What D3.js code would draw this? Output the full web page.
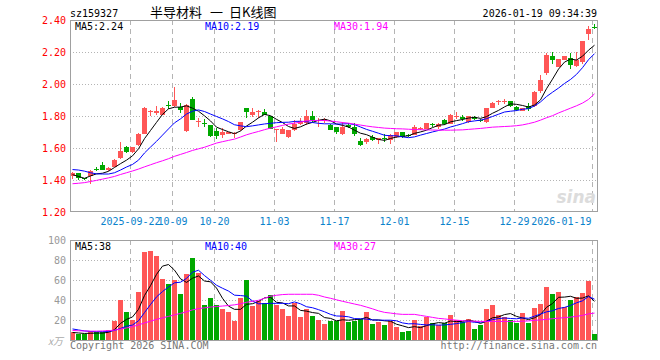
<!DOCTYPE html>
<html><head><meta charset="utf-8">
<script src="https://cdn.jsdelivr.net/npm/d3@7"></script>
<style>body{margin:0;background:#fff}svg{display:block}</style>
</head><body>
<svg id="c" width="660" height="360"></svg>
<script>
// ---------------- data ----------------
const open  = [1.424,1.444,1.410,1.423,1.470,1.496,1.462,1.481,1.536,1.604,1.573,1.617,1.690,1.825,1.820,1.810,1.868,1.862,1.856,1.704,1.910,1.765,1.758,1.742,1.705,1.680,1.690,1.687,1.710,1.850,1.810,1.827,1.827,1.800,1.710,1.690,1.667,1.716,1.752,1.760,1.800,1.768,1.770,1.745,1.730,1.685,1.745,1.735,1.646,1.640,1.670,1.653,1.660,1.648,1.669,1.700,1.682,1.680,1.720,1.722,1.748,1.729,1.775,1.753,1.794,1.796,1.764,1.796,1.777,1.764,1.850,1.888,1.888,1.895,1.860,1.834,1.863,1.863,1.955,2.070,2.175,2.110,2.153,2.164,2.116,2.137,2.318,2.362];
const high  = [1.448,1.446,1.415,1.460,1.480,1.510,1.478,1.532,1.635,1.610,1.607,1.694,1.855,1.840,1.865,1.856,1.895,1.980,1.880,1.875,1.920,1.790,1.780,1.745,1.725,1.725,1.700,1.700,1.765,1.850,1.850,1.840,1.845,1.800,1.720,1.735,1.710,1.777,1.790,1.840,1.830,1.790,1.790,1.750,1.730,1.765,1.760,1.755,1.665,1.665,1.680,1.665,1.685,1.685,1.700,1.700,1.690,1.745,1.735,1.760,1.757,1.757,1.785,1.812,1.827,1.806,1.800,1.800,1.785,1.850,1.890,1.900,1.905,1.895,1.865,1.853,1.880,1.960,2.058,2.195,2.205,2.160,2.180,2.195,2.200,2.272,2.363,2.375];
const low   = [1.405,1.400,1.400,1.377,1.455,1.460,1.458,1.478,1.530,1.566,1.570,1.610,1.685,1.800,1.810,1.805,1.845,1.858,1.820,1.700,1.775,1.730,1.735,1.670,1.656,1.664,1.685,1.660,1.705,1.790,1.794,1.790,1.805,1.720,1.640,1.685,1.665,1.706,1.744,1.744,1.765,1.730,1.760,1.715,1.685,1.680,1.725,1.675,1.610,1.625,1.645,1.628,1.635,1.625,1.665,1.665,1.672,1.680,1.710,1.720,1.735,1.720,1.745,1.750,1.780,1.770,1.760,1.775,1.765,1.760,1.850,1.870,1.875,1.860,1.835,1.830,1.835,1.860,1.945,2.060,2.130,2.110,2.150,2.095,2.110,2.130,2.280,2.345];
const close = [1.443,1.413,1.407,1.458,1.467,1.465,1.474,1.527,1.579,1.573,1.604,1.690,1.850,1.832,1.830,1.854,1.864,1.900,1.837,1.871,1.777,1.770,1.754,1.677,1.677,1.700,1.700,1.697,1.762,1.829,1.823,1.832,1.810,1.720,1.717,1.720,1.710,1.750,1.770,1.798,1.777,1.777,1.785,1.716,1.700,1.730,1.730,1.686,1.617,1.655,1.650,1.660,1.657,1.680,1.700,1.669,1.678,1.733,1.724,1.758,1.746,1.753,1.753,1.810,1.798,1.779,1.800,1.780,1.774,1.850,1.884,1.892,1.892,1.865,1.838,1.850,1.842,1.954,2.027,2.185,2.153,2.157,2.175,2.122,2.154,2.270,2.347,2.358];
const ma5   = [1.433,1.422,1.410,1.425,1.438,1.442,1.454,1.478,1.502,1.524,1.551,1.595,1.659,1.710,1.761,1.811,1.846,1.856,1.857,1.865,1.850,1.831,1.802,1.770,1.731,1.716,1.702,1.690,1.707,1.738,1.762,1.789,1.811,1.803,1.780,1.760,1.735,1.723,1.733,1.750,1.761,1.774,1.781,1.771,1.751,1.742,1.732,1.712,1.693,1.684,1.668,1.654,1.648,1.660,1.669,1.673,1.677,1.692,1.701,1.712,1.728,1.743,1.747,1.764,1.772,1.779,1.788,1.793,1.786,1.797,1.818,1.836,1.858,1.877,1.874,1.867,1.857,1.870,1.902,1.972,2.032,2.095,2.139,2.158,2.152,2.176,2.214,2.245];
const ma10  = [1.465,1.462,1.455,1.445,1.438,1.437,1.437,1.445,1.462,1.481,1.497,1.524,1.569,1.606,1.642,1.681,1.720,1.758,1.783,1.813,1.831,1.839,1.829,1.813,1.798,1.783,1.766,1.746,1.739,1.734,1.739,1.745,1.751,1.755,1.759,1.761,1.762,1.767,1.768,1.765,1.760,1.755,1.752,1.752,1.750,1.751,1.753,1.747,1.732,1.717,1.705,1.693,1.680,1.677,1.677,1.670,1.665,1.670,1.681,1.691,1.701,1.710,1.719,1.732,1.742,1.753,1.765,1.770,1.775,1.784,1.798,1.812,1.826,1.831,1.835,1.843,1.847,1.864,1.889,1.923,1.950,1.976,2.005,2.030,2.062,2.104,2.154,2.192];
const ma30  = [1.376,1.379,1.383,1.390,1.397,1.405,1.413,1.422,1.434,1.445,1.456,1.468,1.482,1.495,1.508,1.520,1.533,1.548,1.560,1.572,1.585,1.595,1.605,1.618,1.631,1.640,1.648,1.656,1.669,1.683,1.694,1.704,1.715,1.725,1.733,1.742,1.750,1.756,1.763,1.771,1.773,1.773,1.773,1.769,1.765,1.760,1.756,1.750,1.744,1.738,1.733,1.729,1.725,1.723,1.721,1.720,1.718,1.716,1.715,1.714,1.713,1.712,1.712,1.712,1.713,1.714,1.717,1.720,1.723,1.727,1.731,1.733,1.735,1.737,1.740,1.745,1.753,1.762,1.775,1.790,1.803,1.820,1.835,1.850,1.865,1.882,1.905,1.940];
const volume = [8,6,6,9,8,8,10,19,40,28,20,48,88,89,84,61,56,60,46,66,82,67,35,42,35,31,28,19,42,60,34,39,37,45,35,31,24,37,23,31,24,20,16,19,19,29,18,19,21,28,16,18,15,19,13,8,9,20,14,23,17,15,17,25,20,18,21,11,15,31,35,25,23,20,17,27,17,32,36,53,46,48,33,40,43,47,59,6];
const vma5  = [8,7.5,7,7.2,7.4,7.4,8.2,10.8,17,21,23.4,31,44.8,54.6,65.8,74,75.6,70,61.4,57.8,62,64.2,59.2,58.4,52.2,42,34.2,31,31,36,36.6,38.8,42.4,43,38,37.4,34.4,34.4,30,29.2,27.8,27,22.8,22,19.6,20.6,20.2,20.8,21.2,23,20.4,20.4,19.6,19.2,16.2,14.6,12.8,13.8,12.8,14.8,16.6,17.8,17.2,19.4,18.8,19,20.2,19,17,19.2,22.6,23.4,25.8,26.8,24,22.4,20.8,22.6,25.8,33,36.8,43,43.2,44,42,42.2,44.4,39];
const vma10 = [11.5,10.5,9.5,9,8.8,8.8,9,10,12,14.2,15.4,19.6,27.8,35.8,43.4,48.7,53.3,57.4,58,61.8,68,69.9,64.6,59.9,55,52,49.2,45.1,44.7,44.1,39.3,36.5,36.7,37,37,37,36.6,38.4,36.5,33.6,32.6,30.7,28.6,26,24.4,24.2,23.6,21.8,21.6,21.3,20.5,20.3,20.2,20.2,19.6,17.5,16.6,16.7,16,15.5,15.6,15.3,15.5,16.1,16.8,17.8,19,18.1,18.2,19,20.8,21.8,22.4,21.9,21.6,22.5,22.1,24.2,26.3,28.5,29.6,31.9,32.9,34.9,37.5,39.5,43.7,41.1];
const vma30 = [10,9.7,9.5,9.3,9.3,9.5,9.8,10.3,11.3,12.5,13.8,15.5,17.5,19.2,21,22.5,24,25.5,27,28.5,30.5,31.7,32.5,33.3,33.8,34.3,34.8,35.5,36.5,38,39,40,42,44,45,45.7,46,46,46,46,46,45,43.3,42,40.5,39,37.7,36.3,35,33.3,31.5,29.5,28,27.3,26.5,26,26,26,25,24,23,22,21.5,20.8,20.2,19.7,19.4,19.2,19,19,19,19,19,19,19,19.2,19.5,20,20.5,21,21.7,22.2,22.8,23.3,24,25,26.5,27.3];
const priceTicks = [2.40,2.20,2.00,1.80,1.60,1.40,1.20];
const volTicks = [100,80,60,40,20];
const dateLabels = ["2025-09-22","10-09","10-20","11-03","11-17","12-01","12-15","12-29","2026-01-19"];
const dateIndex = [10,17,24,34,44,54,64,74,87];
const code = "sz159327", stamp = "2026-01-19 09:34:39";
const titleParts = ["半导材料", "一", "日K线图"];
const maLabels = ["MA5:2.24","MA10:2.19","MA30:1.94"];
const vmaLabels = ["MA5:38","MA10:40","MA30:27"];

// ---------------- drawing ----------------
const UP = "#ff5656", DOWN = "#00a800";
const MA_COL = ["#000000", "#0000ff", "#ff00ff"];
const MONO = "'DejaVu Sans Mono', 'Liberation Mono', monospace";
const CJK = "'Noto Sans CJK SC', sans-serif";
const svg = d3.select("#c");
const n = close.length;
const L = 70, R = 597;
const x = d3.scaleBand().domain(d3.range(n)).range([L, L + 6 * n]).padding(0);
const xi = d3.scaleLinear().domain([0, n]).range([L, L + 6 * n]);
const cx = i => x(i) + 2.5;
const y = d3.scaleLinear().domain([1.2, 2.4]).range([211.8, 20.5]);
const yv = d3.scaleLinear().domain([0, 100]).range([340.5, 240]);
const MT = 20, MB = 211, VT = 240, VB = 341;

// grids
const grid = svg.append("g").attr("stroke", "#b4b4b4").attr("shape-rendering", "crispEdges");
priceTicks.slice(1, -1).forEach(p => grid.append("line")
  .attr("x1", L).attr("x2", R).attr("y1", Math.round(y(p)) + 0.5).attr("y2", Math.round(y(p)) + 0.5)
  .attr("stroke-dasharray", "1,2"));
volTicks.slice(1).forEach(v => grid.append("line")
  .attr("x1", L).attr("x2", R).attr("y1", Math.round(yv(v)) + 0.5).attr("y2", Math.round(yv(v)) + 0.5)
  .attr("stroke-dasharray", "1,2"));
dateIndex.forEach(i => {
  const gx = Math.round(xi(i)) + 0.5;
  grid.append("line").attr("x1", gx).attr("x2", gx).attr("y1", MT).attr("y2", MB).attr("stroke-dasharray", "5,4");
  grid.append("line").attr("x1", gx).attr("x2", gx).attr("y1", VT).attr("y2", VB).attr("stroke-dasharray", "5,4");
});

// candles
const cg = svg.append("g").attr("shape-rendering", "crispEdges");
d3.range(n).forEach(i => {
  const col = close[i] >= open[i] ? UP : DOWN;
  cg.append("line").attr("x1", cx(i)).attr("x2", cx(i))
    .attr("y1", y(high[i])).attr("y2", y(low[i])).attr("stroke", col);
  const top = y(Math.max(open[i], close[i])), bot = y(Math.min(open[i], close[i]));
  cg.append("rect").attr("x", x(i)).attr("width", 5)
    .attr("y", top).attr("height", Math.max(1, bot - top)).attr("fill", col);
});

// volume bars
const vg = svg.append("g").attr("shape-rendering", "crispEdges");
d3.range(n).forEach(i => {
  const col = close[i] >= open[i] ? UP : DOWN;
  vg.append("rect").attr("x", x(i)).attr("width", 5)
    .attr("y", yv(volume[i])).attr("height", 340.5 - yv(volume[i])).attr("fill", col);
});

// MA lines
const line = (arr, sc) => d3.line().x((d, i) => cx(i)).y(d => sc(d))(arr);
[ma5, ma10, ma30].forEach((arr, k) => svg.append("path").attr("d", line(arr, y))
  .attr("fill", "none").attr("stroke", MA_COL[k]).attr("stroke-width", 1));
[vma5, vma10, vma30].forEach((arr, k) => svg.append("path").attr("d", line(arr, yv))
  .attr("fill", "none").attr("stroke", MA_COL[k]).attr("stroke-width", 1));

// frames
svg.append("rect").attr("x", L + 0.5).attr("y", MT + 0.5).attr("width", R - L).attr("height", MB - MT)
  .attr("fill", "none").attr("stroke", "#a0a0a0").attr("shape-rendering", "crispEdges");
svg.append("rect").attr("x", L + 0.5).attr("y", VT + 0.5).attr("width", R - L).attr("height", VB - VT - 1)
  .attr("fill", "none").attr("stroke", "#a0a0a0").attr("shape-rendering", "crispEdges");

// watermark
const wm = svg.append("g").attr("fill", "#dcdcdc");
wm.append("text").attr("x", 596).attr("y", 203).attr("text-anchor", "end")
  .attr("font-family", "'DejaVu Sans', sans-serif").attr("font-size", 17).attr("font-weight", "bold")
  .attr("font-style", "italic").text("sina");

// axes
const ax1 = svg.append("g").attr("transform", "translate(66,0)")
  .call(d3.axisLeft(y).tickValues(priceTicks).tickSize(0).tickPadding(0).tickFormat(d3.format(".2f")));
const ax2 = svg.append("g").attr("transform", "translate(66,0)")
  .call(d3.axisLeft(yv).tickValues(volTicks).tickSize(0).tickPadding(0).tickFormat(d3.format("d")));
const ax3 = svg.append("g").attr("transform", "translate(0,215)")
  .call(d3.axisBottom(xi).tickValues(dateIndex).tickSize(0).tickPadding(3).tickFormat((d, k) => dateLabels[k]));
[ax1, ax2, ax3].forEach(a => { a.select(".domain").remove(); a.selectAll("text").attr("font-family", MONO).attr("font-size", 10); });
ax1.selectAll("text").attr("fill", "#ff0000");
ax2.selectAll("text").attr("fill", "#999999");
ax3.selectAll("text").attr("fill", "#0a82cc");
ax3.selectAll(".tick").filter((d, k) => k === dateIndex.length - 1).select("text")
  .attr("text-anchor", "end").attr("x", -1);

// header texts
const T = (s, xx, yy, col, anchor, fam, size) => svg.append("text").attr("x", xx).attr("y", yy)
  .attr("fill", col).attr("text-anchor", anchor || "start").attr("font-family", fam || MONO)
  .attr("font-size", size || 10).text(s);
T(code, 70, 16.5, "#000");
const tt = svg.append("text").attr("y", 16.5).attr("fill", "#000").attr("font-family", CJK).attr("font-size", 13);
const tx = [150, 210, 229];
titleParts.forEach((s, k) => tt.append("tspan").attr("x", tx[k]).text(s));
T(stamp, 597, 16.5, "#000", "end");
const mx = [75, 205, 334];
maLabels.forEach((s, k) => T(s, mx[k], 29.5, MA_COL[k]));
vmaLabels.forEach((s, k) => T(s, mx[k], 249.5, MA_COL[k]));
T("x万", 63, 345, "#aaaaaa", "end", CJK, 10).attr("font-style", "italic");
T("Copyright 2026 SINA.COM", 70, 349, "#777777");
T("http://finance.sina.com.cn", 597, 349, "#777777", "end");
</script>
</body></html>
